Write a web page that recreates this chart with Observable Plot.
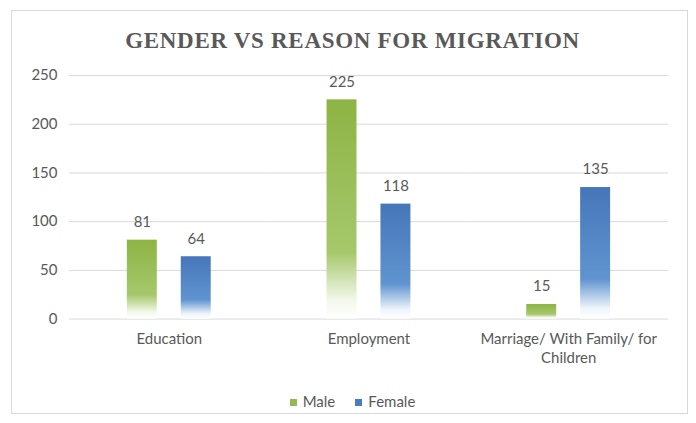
<!DOCTYPE html>
<html>
<head>
<meta charset="utf-8">
<script src="https://cdn.jsdelivr.net/npm/d3@7"></script>
<script src="https://cdn.jsdelivr.net/npm/@observablehq/plot@0.6"></script>
<style>
  html, body { margin: 0; padding: 0; background: #fff; }
  body { width: 696px; height: 423px; position: relative; overflow: hidden; font-family: Lato, sans-serif; }
  #chart { position: absolute; left: 11px; top: 10px; width: 677px; height: 404px; box-sizing: border-box; border: 1px solid #d9d9d9; }
  #title { position: absolute; left: 0; top: 0; width: 100%; text-align: center; font-family: "Liberation Serif", serif; font-weight: bold; font-size: 23px; letter-spacing: 0.7px; color: #595959; padding-left: 6px; box-sizing: border-box; line-height: 1; padding-top: 18px; }
  #plot { position: absolute; left: -1px; top: 51px; }
  #legend { position: absolute; left: 0; width: 100%; top: 381px; display: flex; justify-content: center; gap: 20px; font-family: Lato, sans-serif; font-size: 15px; color: #595959; padding-left: 6px; box-sizing: border-box; }
  #legend span.sw { display: inline-block; width: 7px; height: 7px; margin-right: 6px; vertical-align: middle; position: relative; top: -1px; }
</style>
</head>
<body>
<div id="chart">
  <div id="title">GENDER VS REASON FOR MIGRATION</div>
  <div id="plot"></div>
  <div id="legend"></div>
</div>
<script>
const categories = ["Education", "Employment", "Marriage/ With Family/ for Children"];
const genders = ["Male", "Female"];
const maleValues = [81, 225, 15];
const femaleValues = [64, 118, 135];
const yTicks = [0, 50, 100, 150, 200, 250];
const colors = {Male: "#93b953", Female: "#4a7dbf"};

const rows = [];
categories.forEach((c, i) => {
  rows.push({category: c, gender: "Male", value: maleValues[i]});
  rows.push({category: c, gender: "Female", value: femaleValues[i]});
});

const chart = Plot.plot({
  width: 677,
  height: 307,
  marginLeft: 57,
  marginRight: 18,
  marginTop: 13,
  marginBottom: 50,
  style: {fontFamily: "Lato, sans-serif", fontSize: "15px", color: "#595959", background: "transparent"},
  fx: {domain: categories, padding: 0, axis: null, label: null},
  x: {domain: genders, paddingInner: 0.436, paddingOuter: 1.045, axis: null, label: null},
  y: {domain: [0, 250], axis: null, label: null},
  marks: [
    Plot.ruleY(yTicks, {y: d => d, stroke: "#d9d9d9", strokeWidth: 1}),
    Plot.barY(rows, {fx: "category", x: "gender", y: "value", fill: d => d.gender === "Male" ? "url(#gradMale)" : "url(#gradFemale)"}),
    Plot.text(rows, {fx: "category", x: "gender", y: "value", text: d => String(d.value), dy: -18, fill: "#595959", fontSize: 15}),
    Plot.axisY({ticks: yTicks, tickSize: 0, tickPadding: 12, label: null, fontSize: 15}),
    Plot.axisFx({anchor: "bottom", tickSize: 0, tickPadding: 12, label: null, lineHeight: 1.25, fontSize: 15,
      tickFormat: d => d.replace(" for Children", " for\nChildren")})
  ]
});

// gradient definitions
const svg = d3.select(chart);
const defs = svg.insert("defs", ":first-child");
function grad(id, stops) {
  const g = defs.append("linearGradient").attr("id", id).attr("x1", 0).attr("y1", 0).attr("x2", 0).attr("y2", 1);
  stops.forEach(([o, c]) => g.append("stop").attr("offset", o).attr("stop-color", c));
}
grad("gradMale", [["0", "#8db444"], ["0.7", "#a6c86c"], ["0.92", "#f4f8ec"], ["1", "#ffffff"]]);
grad("gradFemale", [["0", "#4676b9"], ["0.7", "#6094d0"], ["0.92", "#eef4fb"], ["1", "#ffffff"]]);

document.getElementById("plot").appendChild(chart);

const legend = document.getElementById("legend");
genders.forEach(g => {
  const item = document.createElement("div");
  const sw = document.createElement("span");
  sw.className = "sw";
  sw.style.background = colors[g];
  item.appendChild(sw);
  item.appendChild(document.createTextNode(g));
  legend.appendChild(item);
});
</script>
</body>
</html>
